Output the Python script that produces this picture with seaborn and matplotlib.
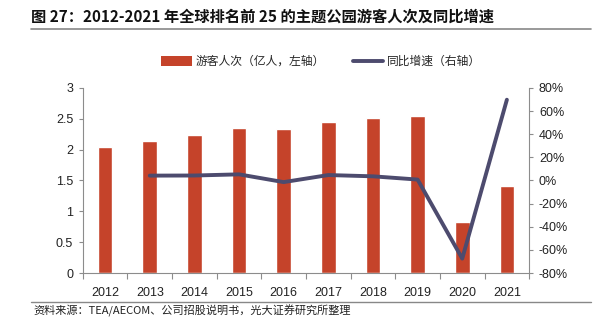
import numpy as np
import pandas as pd
import matplotlib
matplotlib.use("Agg")
import matplotlib.pyplot as plt
import seaborn as sns
from matplotlib.lines import Line2D
from matplotlib.patches import Patch

years = ["2012", "2013", "2014", "2015", "2016", "2017", "2018", "2019", "2020", "2021"]
visitors = [2.05, 2.14, 2.23, 2.35, 2.33, 2.44, 2.51, 2.54, 0.82, 1.41]
growth = [np.nan, 4.2, 4.3, 5.3, -1.4, 4.7, 3.6, 0.8, -67.5, 69.8]
left_ticks = [0, 0.5, 1, 1.5, 2, 2.5, 3]
left_labels = ["0", "0.5", "1", "1.5", "2", "2.5", "3"]
right_ticks = [-80, -60, -40, -20, 0, 20, 40, 60, 80]
right_labels = ["-80%", "-60%", "-40%", "-20%", "0%", "20%", "40%", "60%", "80%"]
title = "图 27：2012-2021 年全球排名前 25 的主题公园游客人次及同比增速"
source = "资料来源：TEA/AECOM、公司招股说明书，光大证券研究所整理"
bar_label = "游客人次（亿人，左轴）"
line_label = "同比增速（右轴）"

sns.set_theme(style="white")
plt.rcParams['font.family'] = ['Liberation Sans', 'Noto Sans CJK SC', 'DejaVu Sans']

bar_color = "#C5432A"
line_color = "#4D4B6E"
axis_color = "#8C8C8C"

df = pd.DataFrame({"year": years, "visitors": visitors, "growth": growth})
df["pos"] = np.arange(len(df))

fig = plt.figure(figsize=(6, 3.33), dpi=100)
ax = fig.add_axes([0.138, 0.180, 0.744, 0.556])
sns.barplot(data=df, x="year", y="visitors", color=bar_color, width=0.33,
            saturation=1, ax=ax)
ax.set_xlim(-0.5, len(years) - 0.5)
ax.set_ylim(0, 3)
ax.set_yticks(left_ticks)
ax.set_yticklabels(left_labels)
ax.set_xlabel("")
ax.set_ylabel("")

ax2 = ax.twinx()
sns.lineplot(data=df, x="pos", y="growth", color=line_color, linewidth=2.8,
             ax=ax2, legend=False)
ax2.set_ylim(-80, 80)
ax2.set_yticks(right_ticks)
ax2.set_yticklabels(right_labels)
ax2.set_ylabel("")
ax2.set_xlim(-0.5, len(years) - 0.5)

for a in (ax, ax2):
    a.spines['top'].set_visible(False)
    for s in ('left', 'right', 'bottom'):
        a.spines[s].set_color(axis_color)
        a.spines[s].set_linewidth(0.8)
    a.tick_params(axis='y', labelsize=9, colors='#222222', length=3,
                  color=axis_color, width=0.8, pad=4)

ax.spines['right'].set_visible(False)
ax2.spines['left'].set_visible(False)
ax2.spines['bottom'].set_visible(False)
ax.tick_params(axis='y', left=True, direction='out')
ax2.tick_params(axis='y', right=True, direction='out')

# x: labels at categories, tick marks at boundaries
ax.tick_params(axis='x', bottom=False, labelsize=9, colors='#222222', pad=4)
ax.set_xticks(np.arange(-0.5, len(years) + 0.5, 1), minor=True)
ax.tick_params(axis='x', which='minor', bottom=True, length=4,
               color=axis_color, width=0.8, direction='out')

handles = [Patch(facecolor=bar_color, edgecolor='none'),
           Line2D([0], [0], color=line_color, linewidth=2.8)]
fig.legend(handles, [bar_label, line_label], loc='center', ncol=2,
           bbox_to_anchor=(0.535, 0.815), frameon=False,
           handlelength=2.6, handleheight=0.8, columnspacing=2.4,
           handletextpad=0.3, prop={'family': ['Noto Sans CJK SC'], 'size': 8.5})

fig.text(0.052, 0.949, title, fontsize=11, fontweight='bold', ha='left',
         va='center', family=['Noto Sans CJK SC', 'DejaVu Sans'], color='#111111')
fig.add_artist(Line2D([0.052, 0.985], [0.912, 0.912], color='#888888',
                      linewidth=1.2, transform=fig.transFigure))
fig.add_artist(Line2D([0.052, 0.985], [0.094, 0.094], color='#888888',
                      linewidth=1.0, transform=fig.transFigure))
fig.text(0.055, 0.066, source, fontsize=8, ha='left', va='center',
         family=['Noto Sans CJK SC', 'DejaVu Sans'], color='#222222')

fig.savefig("out.png", dpi=100)
